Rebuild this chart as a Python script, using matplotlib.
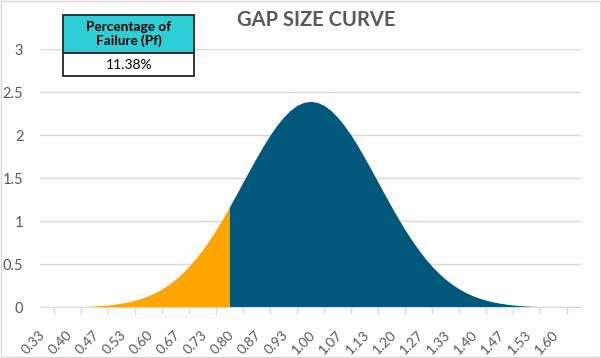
import numpy as np
import matplotlib
matplotlib.use('Agg')
import matplotlib.pyplot as plt
import matplotlib.transforms as mtransforms
from matplotlib.patches import Rectangle
from matplotlib.ticker import FuncFormatter

# gap size categories: 1/3 .. 1.633 in steps of 1/60 (half a category)
X_START = 1.0 / 3.0
X_STEP = 1.0 / 60.0

# density at each x step
density = [
    0.001, 0.002, 0.002, 0.004, 0.005, 0.007, 0.010, 0.014, 0.020, 0.027,
    0.036, 0.048, 0.063, 0.082, 0.105, 0.134, 0.170, 0.213, 0.264, 0.324,
    0.394, 0.474, 0.565, 0.666, 0.778, 0.899, 1.029, 1.166, 1.308, 1.453,
    1.597, 1.739, 1.875, 2.001, 2.114, 2.211, 2.290, 2.348, 2.383, 2.395,
    2.383, 2.348, 2.290, 2.211, 2.114, 2.001, 1.875, 1.739, 1.597, 1.453,
    1.308, 1.166, 1.029, 0.899, 0.778, 0.666, 0.565, 0.474, 0.394, 0.324,
    0.264, 0.213, 0.170, 0.134, 0.105, 0.082, 0.063, 0.048, 0.036, 0.027,
    0.020, 0.014, 0.010, 0.007, 0.005, 0.004, 0.002, 0.002, 0.001,
]
# index of the last point counted as failure (orange part)
fail_idx = 27

tick_labels = ["0.33", "0.40", "0.47", "0.53", "0.60", "0.67", "0.73", "0.80",
               "0.87", "0.93", "1.00", "1.07", "1.13", "1.20", "1.27", "1.33",
               "1.40", "1.47", "1.53", "1.60"]
pf_text = "11.38%"

ORANGE = '#FFA500'
TEAL = '#02587A'
GRID = '#D9D9D9'
TXT = '#595959'

plt.rcParams['font.family'] = ['Lato', 'DejaVu Sans']


def main():
    x = X_START + X_STEP * np.arange(len(density))
    y = np.array(density)

    fig = plt.figure(figsize=(6.01, 3.58), dpi=100)
    ax = fig.add_axes([40 / 601, (358 - 307.3) / 358, 541 / 601, (307.3 - 49.3) / 358])

    ax.fill_between(x[:fail_idx + 1], 0, y[:fail_idx + 1], color=ORANGE, linewidth=0, zorder=2)
    ax.fill_between(x[fail_idx:], 0, y[fail_idx:], color=TEAL, linewidth=0, zorder=2)

    # tick marks on the boundaries between labelled categories
    label_pos = X_START + 4 * X_STEP * np.arange(len(tick_labels))
    ax.set_xticks([])
    ax.set_xticks(label_pos + X_STEP, minor=True)
    ax.tick_params(axis='x', which='minor', length=5, color=GRID, width=1)

    # rotated category labels, written as text so they can sit like Excel's
    lab_tr = ax.get_xaxis_transform() + mtransforms.ScaledTranslation(
        -0.081, -0.215, fig.dpi_scale_trans)
    for pos, lab in zip(label_pos, tick_labels):
        ax.text(pos, 0, lab, transform=lab_tr, rotation=45, ha='right', va='top',
                rotation_mode='anchor', color=TXT, fontsize=10, clip_on=False)

    ax.set_xlim(X_START - X_STEP, X_START + 39 * 2 * X_STEP + X_STEP)
    ax.set_ylim(0, 3)

    ax.set_yticks([0, 0.5, 1, 1.5, 2, 2.5, 3])
    ax.yaxis.set_major_formatter(FuncFormatter(lambda v, p: f'{v:g}'))
    ax.tick_params(axis='y', length=0, pad=12, labelcolor=TXT, labelsize=10.5)

    ax.grid(axis='y', color=GRID, linewidth=1, zorder=0)
    ax.set_axisbelow(True)
    for s in ['top', 'right', 'left']:
        ax.spines[s].set_visible(False)
    ax.spines['bottom'].set_color(GRID)
    ax.spines['bottom'].set_zorder(3)

    fig.text(316 / 601, 1 - 20 / 358, 'GAP SIZE CURVE', ha='center', va='center',
             fontsize=14.5, fontweight='bold', color=TXT)

    # Pf box in the top left corner
    def fx(px):
        return px / 601

    def fy(py):
        return 1 - py / 358

    fig.patches.append(Rectangle((fx(63), fy(53)), fx(194) - fx(63), fy(15) - fy(53),
                                 transform=fig.transFigure, facecolor='#2ECED6',
                                 edgecolor='#262626', linewidth=1.3, zorder=5))
    fig.patches.append(Rectangle((fx(63), fy(76)), fx(194) - fx(63), fy(53) - fy(76),
                                 transform=fig.transFigure, facecolor='white',
                                 edgecolor='#262626', linewidth=1.3, zorder=5))
    fig.text(fx(128.5), fy(34), 'Percentage of\nFailure (Pf)', ha='center', va='center',
             fontsize=9.8, fontweight='bold', color='black', linespacing=1.1, zorder=6)
    fig.text(fx(129.5), fy(65), pf_text, ha='center', va='center',
             fontsize=10, color='black', zorder=6)

    # chart border
    fig.patches.append(Rectangle((0.001, 0.002), 0.997, 0.995, transform=fig.transFigure,
                                 facecolor='none', edgecolor=GRID, linewidth=1))

    fig.savefig('out.png', dpi=100)
    plt.close(fig)


if __name__ == "__main__":
    main()
